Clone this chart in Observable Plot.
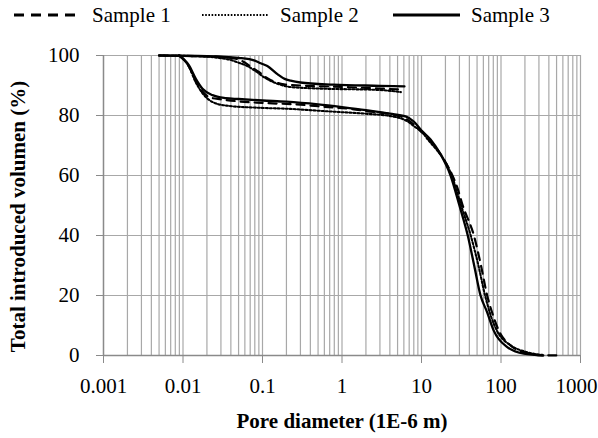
<!DOCTYPE html>
<html>
<head>
<meta charset="utf-8">
<script src="https://cdn.jsdelivr.net/npm/d3@7"></script>
<script src="https://cdn.jsdelivr.net/npm/@observablehq/plot@0.6"></script>
<style>
  html, body { margin: 0; padding: 0; background: #fff; }
  #wrap { width: 598px; height: 438px; position: relative; font-family: "Liberation Serif", "Times New Roman", serif; }
  #legend { position: relative; height: 35px; font-size: 21px; color: #000; }
  #legend .item { position: absolute; top: 3px; display: flex; align-items: center; height: 24px; }
  #legend .item span { margin-left: 11px; }
</style>
</head>
<body>
<div id="wrap">
  <div id="legend"></div>
  <div id="chart"></div>
</div>
<script>
// ---- data (pore diameter in 1E-6 m, cumulative intruded volume %) ----
const sampleNames = ["Sample 1", "Sample 2", "Sample 3"];

// Sample 1 (dashed)
const s1Intrusion = [[580,0],[330,0.1],[200,1],[130,3.5],[95,8],[78,14],[67,20],[56,30],[45.6,40],[33,50],[28.5,55.6],[24.5,60],[20,64.5],[16,68.5],[12,72.5],[10,74.5],[8,77],[6.3,79],[4.3,80.3],[2,81.5],[1.28,82.2],[0.6,82.9],[0.3,83.6],[0.1,84.2],[0.05,84.7],[0.03,85.4],[0.022,86],[0.0176,88],[0.0145,91.5],[0.0119,96.3],[0.0089,100]];
const s1Extrusion = [[0.005,100],[0.02,99.7],[0.04,99.2],[0.055,98.2],[0.071,96.3],[0.09,94.5],[0.115,92.4],[0.186,90.4],[0.3,90.0],[0.78,89.6],[3,89],[5.8,88.6]];

// Sample 2 (dotted)
const s2Intrusion = [[330,0.2],[200,1.3],[130,3.5],[90,8],[75,13],[63,20],[52,30],[41.6,40],[31.5,50],[24,60],[20,64.5],[15.8,68.3],[12,72],[10.6,73.9],[8,76.5],[6.6,78.1],[4.5,79.6],[2,80.6],[1,81.1],[0.5,81.6],[0.226,82.2],[0.086,82.6],[0.035,83.3],[0.0235,84.5],[0.0175,87.5],[0.0145,91],[0.012,96],[0.009,100]];
const s2Extrusion = [[0.005,100],[0.02,99.6],[0.03,99.1],[0.04,98.5],[0.05,97.6],[0.064,96.5],[0.085,94.5],[0.104,92.8],[0.154,90.6],[0.226,89.5],[0.5,89.0],[3,88.5],[5.5,87.8]];

// Sample 3 (solid)
const s3Intrusion = [[340,0],[194,0.6],[120,2.8],[81,8.3],[67,14.4],[55.3,20],[46,30],[38.2,40],[30,50],[23.2,60],[17.4,67],[13,72],[10,75],[8,78],[6.3,79.7],[4,80.6],[2,81.8],[1,82.8],[0.5,83.7],[0.2,84.6],[0.1,85],[0.05,85.5],[0.0345,85.8],[0.0235,86.8],[0.0176,88.9],[0.0145,92.2],[0.0119,96.7],[0.0089,100]];
const s3Extrusion = [[0.005,100],[0.02,99.8],[0.05,99.2],[0.08,98.3],[0.095,97.4],[0.115,96.5],[0.154,93.8],[0.19,92.2],[0.226,91.6],[0.30,91.0],[0.78,90.3],[3,89.9],[6.1,89.7]];

const xTicks = [0.001, 0.01, 0.1, 1, 10, 100, 1000];
const yTicks = [0, 20, 40, 60, 80, 100];
const minorSteps = [1, 2, 3, 4, 5, 6, 7, 8, 9];
const xTitle = "Pore diameter (1E-6 m)";
const yTitle = "Total introduced volumen (%)";

// ---- build tables ----
function rows(sample, branch, arr) {
  return arr.map(([d, v]) => ({sample, branch, key: sample + "-" + branch, d, v}))
            .sort((a, b) => a.d - b.d);
}
const s1 = [...rows("Sample 1", "in", s1Intrusion), ...rows("Sample 1", "out", s1Extrusion)];
const s2 = [...rows("Sample 2", "in", s2Intrusion), ...rows("Sample 2", "out", s2Extrusion)];
const s3 = [...rows("Sample 3", "in", s3Intrusion), ...rows("Sample 3", "out", s3Extrusion)];

const gridX = [];
xTicks.slice(0, -1).forEach(dec => minorSteps.forEach(m => gridX.push(dec * m)));
gridX.push(xTicks[xTicks.length - 1]);

const styles = {
  "Sample 1": {strokeWidth: 2.2, strokeDasharray: "8,6", legendDash: "10,7", legendWidth: 2.8},
  "Sample 2": {strokeWidth: 2.1, strokeDasharray: "2,2", legendDash: "1.6,1.6", legendWidth: 1.9},
  "Sample 3": {strokeWidth: 2.3, strokeDasharray: null, legendDash: null, legendWidth: 2.8}
};

// ---- legend ----
const legend = document.getElementById("legend");
const legendLeft = {"Sample 1": 14, "Sample 2": 202, "Sample 3": 393};
sampleNames.forEach(name => {
  const st = styles[name];
  const div = document.createElement("div");
  div.className = "item";
  div.style.left = legendLeft[name] + "px";
  div.innerHTML = `<svg width="67" height="10"><line x1="0" x2="67" y1="5" y2="5" stroke="#000" stroke-width="${st.legendWidth}" ${st.legendDash ? `stroke-dasharray="${st.legendDash}"` : ""}/></svg><span>${name}</span>`;
  legend.appendChild(div);
});

// ---- chart ----
const lineMark = (data, name) => Plot.line(data, {
  x: "d", y: "v", z: "key", stroke: "#000", curve: "monotone-x",
  strokeWidth: styles[name].strokeWidth,
  strokeDasharray: styles[name].strokeDasharray || undefined
});

const lastTick = xTicks[xTicks.length - 1];

const chart = Plot.plot({
  width: 598,
  height: 403,
  marginTop: 20,
  marginRight: 18,
  marginBottom: 83,
  marginLeft: 103,
  style: {fontFamily: "'Liberation Serif', 'Times New Roman', serif", fontSize: "21px", color: "#000", background: "#fff", overflow: "visible"},
  x: {type: "log", domain: [0.001, 1000]},
  y: {domain: [0, 100]},
  marks: [
    Plot.ruleX(gridX, {stroke: "#a8a8a8", strokeWidth: 1.2}),
    Plot.ruleY(yTicks, {stroke: "#a8a8a8", strokeWidth: 1.2}),
    Plot.ruleX([xTicks[0]], {stroke: "#8a8a8a", strokeWidth: 1.4}),
    Plot.ruleY([0], {stroke: "#8a8a8a", strokeWidth: 1.4}),
    Plot.axisX({ticks: xTicks, tickFormat: d => d === lastTick ? "" : String(d), tickSize: 8, tickPadding: 15,
      stroke: "#8a8a8a", strokeOpacity: 1, fill: "#000", label: null}),
    Plot.text([lastTick], {x: d => d, frameAnchor: "bottom", text: d => String(d), lineAnchor: "top", dy: 23, dx: -4, fill: "#000"}),
    Plot.axisY({ticks: yTicks, tickSize: 7, tickPadding: 17, stroke: "#8a8a8a", strokeOpacity: 1, fill: "#000", label: null}),
    Plot.text([xTitle], {frameAnchor: "bottom", dy: 72, fontWeight: "bold", fill: "#000"}),
    Plot.text([yTitle], {frameAnchor: "left", textAnchor: "middle", rotate: -90, dx: -85, dy: 11, fontWeight: "bold", fill: "#000"}),
    lineMark(s1, "Sample 1"),
    lineMark(s2, "Sample 2"),
    lineMark(s3, "Sample 3")
  ]
});
document.getElementById("chart").appendChild(chart);
</script>
</body>
</html>
